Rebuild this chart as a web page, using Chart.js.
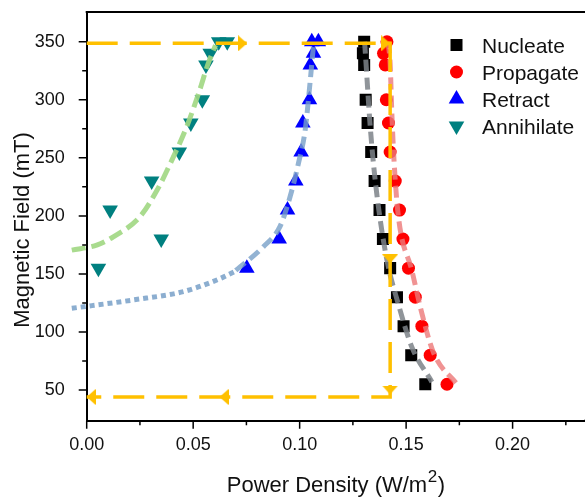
<!DOCTYPE html>
<html><head><meta charset="utf-8">
<script src="https://cdn.jsdelivr.net/npm/chart.js@4.4.1/dist/chart.umd.min.js"></script>
<style>html,body{margin:0;padding:0;background:#fff}#wrap{width:585px;height:498px;position:relative}</style>
</head><body><div id="wrap"><canvas id="c" width="585" height="498"></canvas></div>
<script>
// ---- data ----
const nucleateX = [0.1303,0.1297,0.1303,0.1310,0.1319,0.1336,0.1352,0.1375,0.1391,0.1425,0.1457,0.1488,0.1524,0.1590];
const nucleateY = [350,340,330,300,280,255,230,205,180,155,130,105,80,55];
const propagateX = [0.1410,0.1394,0.1402,0.1407,0.1417,0.1425,0.1449,0.1469,0.1485,0.1511,0.1543,0.1574,0.1613,0.1692];
const propagateY = [350,340,330,300,280,255,230,205,180,155,130,105,80,55];
const retractX = [0.0752,0.0904,0.0943,0.0982,0.1007,0.1015,0.1046,0.1050,0.1065,0.1057,0.1088];
const retractY = [155,180,205,230,255,280,300,330,340,350,350];
const annihilateX = [0.0055,0.0110,0.0350,0.0305,0.0435,0.0489,0.0543,0.0560,0.0580,0.0620,0.0660];
const annihilateY = [155,205,180,230,255,280,300,330,340,350,350];

// fit curves
const nucFitX = [0.1305,0.1315,0.1327,0.1345,0.1372,0.1412,0.1462,0.1527,0.1621];
const nucFitY = [350,322,288,248,205,160,125,87,57];
const propFitX = [0.1415,0.1425,0.1433,0.1444,0.1464,0.1527,0.1574,0.1629,0.1739];
const propFitY = [350,331,288,245,199,153,116,82,55];
const retFitX = [0.0700,0.0830,0.0908,0.0955,0.0994,0.1026,0.1050,0.1065,0.1070];
const retFitY = [153,173.5,191,216.5,245,274,317,345.7,350];
const retDotX = [-0.0070,0.0219,0.0454,0.0611,0.0705];
const retDotY = [120.4,127.6,134.8,144.8,152.8];
const annFitX = [-0.0070,0.0050,0.0125,0.0250,0.0330,0.0400,0.0470,0.0530,0.0570,0.0605];
const annFitY = [170.5,175,182,199.3,222,248,277,308,331,347];

// hysteresis guide (orange)
const loopX = [0,0.1425,0.1425,0];
const loopY = [348.6,348.6,44,44];
const arrowX = [0.0732,0.1404,0.1425,0.1425,0.0645,0.0021];
const arrowY = [348.6,348.6,163,50,44,44];
const arrowRot = [90,90,180,180,270,270];

// axes
const xTicks = [0,0.05,0.10,0.15,0.20];
const xMinor = [0.025,0.075,0.125,0.175,0.225];
const yTicks = [50,100,150,200,250,300,350];
const yMinor = [75,125,175,225,275,325];
const seriesNames = ['Nucleate','Propagate','Retract','Annihilate'];

const pts = (xs, ys) => xs.map((x, i) => ({x, y: ys[i]}));
const ORANGE = '#ffc000';
const FONT = "'Liberation Sans', Arial, sans-serif";

// arrowhead image (points up)
const arrowImg = document.createElement('canvas');
arrowImg.width = 16; arrowImg.height = 9;
(function(){const g = arrowImg.getContext('2d'); g.fillStyle = ORANGE; g.beginPath(); g.moveTo(8,0); g.lineTo(16,9); g.lineTo(0,9); g.closePath(); g.fill();})();

const lineDs = (label, data, color, dash, clip) => ({
  label, data, showLine: true, pointRadius: 0, borderColor: color, borderWidth: 5,
  borderDash: dash, borderCapStyle: 'butt', fill: false, clip: clip === false ? false : undefined,
  cubicInterpolationMode: 'monotone'
});

const datasets = [
  {label:'loop', data: pts(loopX, loopY), showLine:true, pointRadius:0, borderColor: ORANGE, borderWidth:3.5, borderDash:[31,12], tension:0, fill:false, clip:false},
  {label:'arrows', data: pts(arrowX, arrowY), showLine:false, pointStyle: arrowImg, pointRotation: arrowRot, pointRadius: 8, clip:false},
  lineDs('nucFit', pts(nucFitX, nucFitY), 'rgba(125,130,136,0.85)', [12,6]),
  lineDs('propFit', pts(propFitX, propFitY), 'rgba(236,120,120,0.8)', [12,6]),
  lineDs('retFit', pts(retFitX, retFitY), 'rgba(120,160,200,0.8)', [12,6]),
  lineDs('retDot', pts(retDotX, retDotY), 'rgba(120,160,200,0.85)', [5,4], false),
  lineDs('annFit', pts(annFitX, annFitY), 'rgba(160,215,130,0.9)', [14,6], false),
  {label: seriesNames[0], data: pts(nucleateX, nucleateY), pointStyle:'rect', pointRadius:8.5, backgroundColor:'#000', borderWidth:0},
  {label: seriesNames[1], data: pts(propagateX, propagateY), pointStyle:'circle', pointRadius:6.5, backgroundColor:'#ff0000', borderWidth:0},
  {label: seriesNames[2], data: pts(retractX, retractY), pointStyle:'triangle', pointRadius:9, backgroundColor:'#0000ff', borderWidth:0},
  {label: seriesNames[3], data: pts(annihilateX, annihilateY), pointStyle:'triangle', pointRotation:180, pointRadius:9, backgroundColor:'#008080', borderWidth:0}
];

const decor = {
  id: 'decor',
  afterDraw(chart) {
    const ctx = chart.ctx, ca = chart.chartArea, xs = chart.scales.x, ys = chart.scales.y;
    ctx.save();
    ctx.strokeStyle = '#000'; ctx.lineWidth = 2;
    ctx.beginPath(); ctx.moveTo(ca.left - 1, ca.top); ctx.lineTo(chart.width, ca.top); ctx.stroke();
    ctx.beginPath(); ctx.moveTo(ca.right - 1, ca.bottom); ctx.lineTo(chart.width, ca.bottom); ctx.stroke();
    ctx.lineWidth = 1.5;
    ctx.beginPath();
    xTicks.forEach(v => { const p = xs.getPixelForValue(v); ctx.moveTo(p, ca.bottom); ctx.lineTo(p, ca.bottom + 8); });
    xMinor.forEach(v => { const p = xs.getPixelForValue(v); ctx.moveTo(p, ca.bottom); ctx.lineTo(p, ca.bottom + 4.5); });
    yTicks.forEach(v => { const p = ys.getPixelForValue(v); ctx.moveTo(ca.left, p); ctx.lineTo(ca.left - 8, p); });
    yMinor.forEach(v => { const p = ys.getPixelForValue(v); ctx.moveTo(ca.left, p); ctx.lineTo(ca.left - 4.5, p); });
    ctx.stroke();
    ctx.fillStyle = '#111';
    ctx.font = '22px ' + FONT;
    ctx.textBaseline = 'alphabetic';
    const main = 'Power Density (W/m', sup = '2', close = ')';
    const wMain = ctx.measureText(main).width, wClose = ctx.measureText(close).width;
    ctx.font = '17px ' + FONT; const wSup = ctx.measureText(sup).width;
    const total = wMain + wSup + wClose + 1;
    let x0 = (86.7 + 585) / 2 - total / 2; const by = 492;
    ctx.font = '22px ' + FONT; ctx.textAlign = 'left';
    ctx.fillText(main, x0, by);
    ctx.font = '17px ' + FONT; ctx.fillText(sup, x0 + wMain + 0.5, by - 10);
    ctx.font = '22px ' + FONT; ctx.fillText(close, x0 + wMain + wSup + 1, by);
    ctx.save();
    ctx.translate(29, 230); ctx.rotate(-Math.PI / 2);
    ctx.textAlign = 'center'; ctx.textBaseline = 'alphabetic';
    ctx.fillText('Magnetic Field (mT)', 0, 0);
    ctx.restore();
    const lx = 456.5, tx = 482, rows = [45, 72, 99, 126];
    ctx.font = '21px ' + FONT; ctx.textAlign = 'left'; ctx.textBaseline = 'alphabetic';
    rows.forEach((cy, i) => {
      if (i === 0) { ctx.fillStyle = '#000'; ctx.fillRect(lx - 6, cy - 6, 12, 12); }
      if (i === 1) { ctx.fillStyle = '#ff0000'; ctx.beginPath(); ctx.arc(lx, cy, 6.5, 0, Math.PI * 2); ctx.fill(); }
      if (i === 2) { ctx.fillStyle = '#0000ff'; ctx.beginPath(); ctx.moveTo(lx, cy - 9); ctx.lineTo(lx + 7.8, cy + 4.5); ctx.lineTo(lx - 7.8, cy + 4.5); ctx.closePath(); ctx.fill(); }
      if (i === 3) { ctx.fillStyle = '#008080'; ctx.beginPath(); ctx.moveTo(lx, cy + 9); ctx.lineTo(lx + 7.8, cy - 4.5); ctx.lineTo(lx - 7.8, cy - 4.5); ctx.closePath(); ctx.fill(); }
      ctx.fillStyle = '#111';
      ctx.fillText(seriesNames[i], tx, cy + 7.7);
    });
    ctx.restore();
  }
};

const noPad = s => { s.paddingTop = 0; s.paddingBottom = 0; s.paddingLeft = 0; s.paddingRight = 0; };
new Chart(document.getElementById('c'), {
  type: 'scatter',
  data: { datasets },
  options: {
    responsive: false, animation: false, devicePixelRatio: 1,
    layout: { padding: { top: 12, left: 0, right: 0, bottom: 0 }, autoPadding: false },
    plugins: { legend: { display: false }, tooltip: { enabled: false } },
    scales: {
      x: {
        type: 'linear', min: 0, max: 0.234,
        afterBuildTicks: s => { s.ticks = xTicks.map(v => ({ value: v })); },
        afterFit: s => { s.height = 77.3; noPad(s); },
        grid: { display: false },
        border: { display: true, color: '#000', width: 2 },
        ticks: { padding: 6, color: '#111', font: { family: FONT, size: 18 }, maxRotation: 0, callback: v => Number(v).toFixed(2) }
      },
      y: {
        type: 'linear', min: 23.6, max: 375.6,
        afterBuildTicks: s => { s.ticks = yTicks.map(v => ({ value: v })); },
        afterFit: s => { s.width = 86.7; noPad(s); },
        grid: { display: false },
        border: { display: true, color: '#000', width: 2 },
        ticks: { padding: 14, color: '#111', font: { family: FONT, size: 18 }, callback: v => String(v) }
      }
    }
  },
  plugins: [decor]
});
</script></body></html>
